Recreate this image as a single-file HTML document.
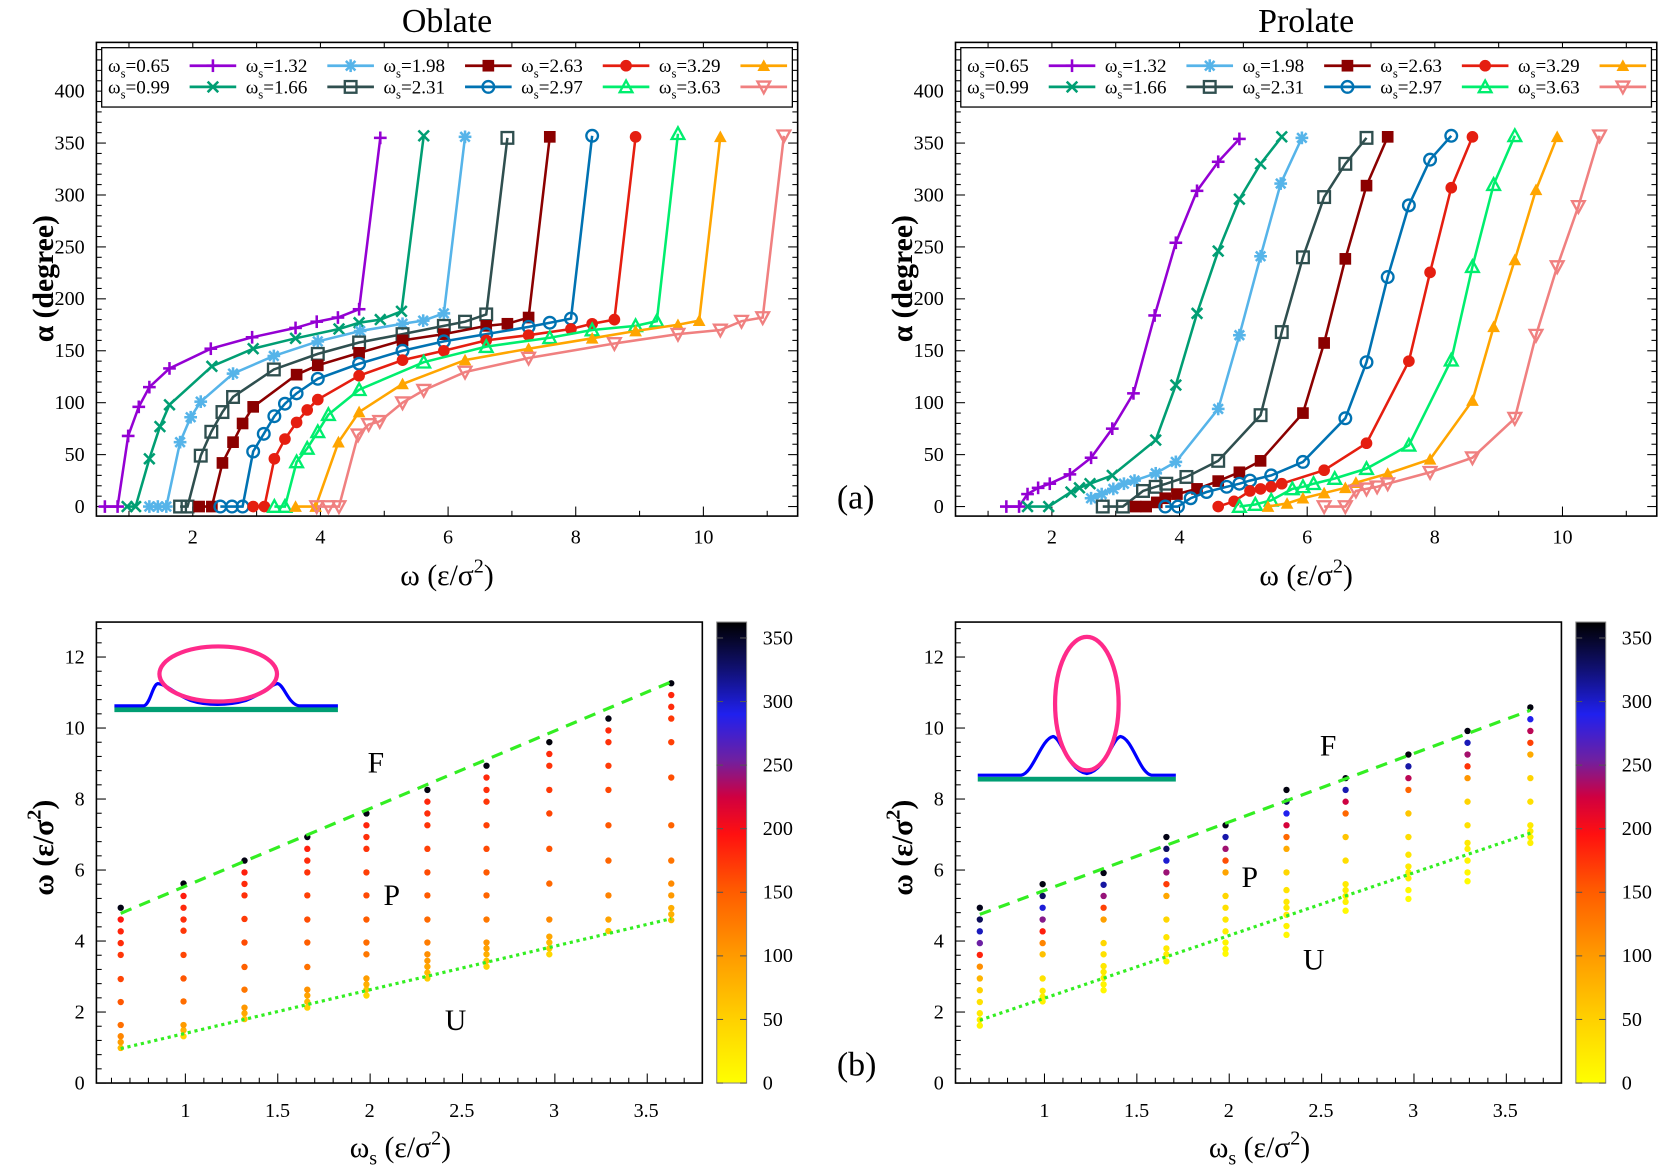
<!DOCTYPE html>
<html><head><meta charset="utf-8"><style>
html,body{margin:0;padding:0;background:#fff;}
svg{display:block;font-family:"Liberation Serif","DejaVu Serif",serif;}
text{font-family:"Liberation Serif","DejaVu Serif",serif;fill:#000;}
</style></head><body>
<svg id="s" width="1661" height="1171" viewBox="0 0 1568 1105" preserveAspectRatio="none" xmlns="http://www.w3.org/2000/svg" font-family="Liberation Serif, serif">
<defs>
<linearGradient id="cb" x1="0" y1="1" x2="0" y2="0">
<stop offset="0" stop-color="#ffff00"/>
<stop offset="0.14" stop-color="#ffd000"/>
<stop offset="0.28" stop-color="#ff9900"/>
<stop offset="0.42" stop-color="#ff5a00"/>
<stop offset="0.54" stop-color="#ff1010"/>
<stop offset="0.62" stop-color="#d00040"/>
<stop offset="0.70" stop-color="#7020a0"/>
<stop offset="0.80" stop-color="#2020ee"/>
<stop offset="0.90" stop-color="#101070"/>
<stop offset="1" stop-color="#000000"/>
</linearGradient>
<clipPath id="cl"><rect x="91" y="40" width="662" height="447"/></clipPath>
<clipPath id="cr"><rect x="902" y="40" width="663" height="447"/></clipPath>
</defs>
<g id="g"></g>
<text x="422" y="30" font-size="32" text-anchor="middle">Oblate</text>
<text x="1233" y="30" font-size="32" text-anchor="middle">Prolate</text>
<g font-size="19" text-anchor="middle">
<text x="182" y="513">2</text><text x="302.5" y="513">4</text><text x="423" y="513">6</text><text x="543.5" y="513">8</text><text x="664" y="513">10</text>
<text x="993" y="513">2</text><text x="1113.5" y="513">4</text><text x="1234" y="513">6</text><text x="1354.5" y="513">8</text><text x="1475" y="513">10</text>
</g>
<g font-size="19" text-anchor="end">
<text x="80" y="484">0</text><text x="80" y="435">50</text><text x="80" y="386">100</text><text x="80" y="337">150</text><text x="80" y="288">200</text><text x="80" y="239">250</text><text x="80" y="190">300</text><text x="80" y="141">350</text><text x="80" y="92">400</text>
<text x="891" y="484">0</text><text x="891" y="435">50</text><text x="891" y="386">100</text><text x="891" y="337">150</text><text x="891" y="288">200</text><text x="891" y="239">250</text><text x="891" y="190">300</text><text x="891" y="141">350</text><text x="891" y="92">400</text>
</g>
<text x="422" y="552" font-size="28" text-anchor="middle">ω (ε/σ<tspan font-size="19" dy="-12">2</tspan><tspan dy="12">)</tspan></text>
<text x="1233" y="552" font-size="28" text-anchor="middle">ω (ε/σ<tspan font-size="19" dy="-12">2</tspan><tspan dy="12">)</tspan></text>
<text transform="translate(50,263) rotate(-90)" font-size="28" font-weight="bold" text-anchor="middle">α (degree)</text>
<text transform="translate(861,263) rotate(-90)" font-size="28" font-weight="bold" text-anchor="middle">α (degree)</text>
<text x="790" y="480" font-size="32">(a)</text>
<text x="790" y="1015" font-size="32">(b)</text>
<g font-size="19" text-anchor="middle">
<text x="175" y="1054">1</text><text x="262" y="1054">1.5</text><text x="349" y="1054">2</text><text x="436" y="1054">2.5</text><text x="523" y="1054">3</text><text x="610" y="1054">3.5</text>
<text x="986" y="1054">1</text><text x="1073" y="1054">1.5</text><text x="1160" y="1054">2</text><text x="1247" y="1054">2.5</text><text x="1334" y="1054">3</text><text x="1421" y="1054">3.5</text>
</g>
<g font-size="19" text-anchor="end">
<text x="80" y="1028">0</text><text x="80" y="961">2</text><text x="80" y="894">4</text><text x="80" y="827">6</text><text x="80" y="760">8</text><text x="80" y="693">10</text><text x="80" y="626">12</text>
<text x="891" y="1028">0</text><text x="891" y="961">2</text><text x="891" y="894">4</text><text x="891" y="827">6</text><text x="891" y="760">8</text><text x="891" y="693">10</text><text x="891" y="626">12</text>
</g>
<g font-size="19">
<text x="720" y="1028">0</text><text x="720" y="968">50</text><text x="720" y="908">100</text><text x="720" y="848">150</text><text x="720" y="788">200</text><text x="720" y="728">250</text><text x="720" y="668">300</text><text x="720" y="608">350</text>
<text x="1531" y="1028">0</text><text x="1531" y="968">50</text><text x="1531" y="908">100</text><text x="1531" y="848">150</text><text x="1531" y="788">200</text><text x="1531" y="728">250</text><text x="1531" y="668">300</text><text x="1531" y="608">350</text>
</g>
<text x="378" y="1092" font-size="28" text-anchor="middle">ω<tspan font-size="19" dy="7">s</tspan><tspan dy="-7"> (ε/σ</tspan><tspan font-size="19" dy="-12">2</tspan><tspan dy="12">)</tspan></text>
<text x="1189" y="1092" font-size="28" text-anchor="middle">ω<tspan font-size="19" dy="7">s</tspan><tspan dy="-7"> (ε/σ</tspan><tspan font-size="19" dy="-12">2</tspan><tspan dy="12">)</tspan></text>
<text transform="translate(50,800) rotate(-90)" font-size="28" font-weight="bold" text-anchor="middle">ω (ε/σ<tspan font-size="19" dy="-12">2</tspan><tspan dy="12">)</tspan></text>
<text transform="translate(861,800) rotate(-90)" font-size="28" font-weight="bold" text-anchor="middle">ω (ε/σ<tspan font-size="19" dy="-12">2</tspan><tspan dy="12">)</tspan></text>
<g font-size="28">
<text x="347" y="729">F</text><text x="362" y="854">P</text><text x="420" y="972">U</text>
<text x="1246" y="713">F</text><text x="1172" y="837">P</text><text x="1230" y="915">U</text>
</g>
<text x="102" y="68" font-size="18">ω<tspan font-size="12" dy="5">s</tspan><tspan dy="-5">=0.65</tspan></text>
<text x="102" y="88" font-size="18">ω<tspan font-size="12" dy="5">s</tspan><tspan dy="-5">=0.99</tspan></text>
<text x="232" y="68" font-size="18">ω<tspan font-size="12" dy="5">s</tspan><tspan dy="-5">=1.32</tspan></text>
<text x="232" y="88" font-size="18">ω<tspan font-size="12" dy="5">s</tspan><tspan dy="-5">=1.66</tspan></text>
<text x="362" y="68" font-size="18">ω<tspan font-size="12" dy="5">s</tspan><tspan dy="-5">=1.98</tspan></text>
<text x="362" y="88" font-size="18">ω<tspan font-size="12" dy="5">s</tspan><tspan dy="-5">=2.31</tspan></text>
<text x="492" y="68" font-size="18">ω<tspan font-size="12" dy="5">s</tspan><tspan dy="-5">=2.63</tspan></text>
<text x="492" y="88" font-size="18">ω<tspan font-size="12" dy="5">s</tspan><tspan dy="-5">=2.97</tspan></text>
<text x="622" y="68" font-size="18">ω<tspan font-size="12" dy="5">s</tspan><tspan dy="-5">=3.29</tspan></text>
<text x="622" y="88" font-size="18">ω<tspan font-size="12" dy="5">s</tspan><tspan dy="-5">=3.63</tspan></text>
<text x="913" y="68" font-size="18">ω<tspan font-size="12" dy="5">s</tspan><tspan dy="-5">=0.65</tspan></text>
<text x="913" y="88" font-size="18">ω<tspan font-size="12" dy="5">s</tspan><tspan dy="-5">=0.99</tspan></text>
<text x="1043" y="68" font-size="18">ω<tspan font-size="12" dy="5">s</tspan><tspan dy="-5">=1.32</tspan></text>
<text x="1043" y="88" font-size="18">ω<tspan font-size="12" dy="5">s</tspan><tspan dy="-5">=1.66</tspan></text>
<text x="1173" y="68" font-size="18">ω<tspan font-size="12" dy="5">s</tspan><tspan dy="-5">=1.98</tspan></text>
<text x="1173" y="88" font-size="18">ω<tspan font-size="12" dy="5">s</tspan><tspan dy="-5">=2.31</tspan></text>
<text x="1303" y="68" font-size="18">ω<tspan font-size="12" dy="5">s</tspan><tspan dy="-5">=2.63</tspan></text>
<text x="1303" y="88" font-size="18">ω<tspan font-size="12" dy="5">s</tspan><tspan dy="-5">=2.97</tspan></text>
<text x="1433" y="68" font-size="18">ω<tspan font-size="12" dy="5">s</tspan><tspan dy="-5">=3.29</tspan></text>
<text x="1433" y="88" font-size="18">ω<tspan font-size="12" dy="5">s</tspan><tspan dy="-5">=3.63</tspan></text>
</svg>
<script>
var NS="http://www.w3.org/2000/svg",G=document.getElementById("g");
function el(t,a,p){var e=document.createElementNS(NS,t);for(var k in a)e.setAttribute(k,a[k]);(p||G).appendChild(e);return e;}
function ln(x1,y1,x2,y2,c,w,p){return el("line",{x1:x1,y1:y1,x2:x2,y2:y2,stroke:c||"#000","stroke-width":w||1.3},p);}
var cols=["#9400d3","#009e73","#56b4e9","#2f4f4f","#8b0000","#0072b2","#e51e10","#00ee6e","#ffa500","#f08080"];
var mks=["plus","cross","star","osq","fsq","ocirc","fcirc","otri","ftri","odtri"];
function mk(t,x,y,c,p){var s=6,w=2.4;
 if(t=="plus"){ln(x-s,y,x+s,y,c,w,p);ln(x,y-s,x,y+s,c,w,p);}
 else if(t=="cross"){ln(x-5,y-5,x+5,y+5,c,w,p);ln(x-5,y+5,x+5,y-5,c,w,p);}
 else if(t=="star"){ln(x-s,y,x+s,y,c,w,p);ln(x,y-s,x,y+s,c,w,p);ln(x-4.5,y-4.5,x+4.5,y+4.5,c,w,p);ln(x-4.5,y+4.5,x+4.5,y-4.5,c,w,p);}
 else if(t=="osq")el("rect",{x:x-5.5,y:y-5.5,width:11,height:11,fill:"none",stroke:c,"stroke-width":2.2},p);
 else if(t=="fsq")el("rect",{x:x-5.5,y:y-5.5,width:11,height:11,fill:c},p);
 else if(t=="ocirc")el("circle",{cx:x,cy:y,r:5.5,fill:"none",stroke:c,"stroke-width":2.2},p);
 else if(t=="fcirc")el("circle",{cx:x,cy:y,r:5.5,fill:c},p);
 else if(t=="otri")el("polygon",{points:(x-6)+","+(y+5)+" "+(x+6)+","+(y+5)+" "+x+","+(y-6),fill:"none",stroke:c,"stroke-width":2.2},p);
 else if(t=="ftri")el("polygon",{points:(x-6)+","+(y+5)+" "+(x+6)+","+(y+5)+" "+x+","+(y-6),fill:c},p);
 else el("polygon",{points:(x-6)+","+(y-5)+" "+(x+6)+","+(y-5)+" "+x+","+(y+6),fill:"none",stroke:c,"stroke-width":2.2},p);
}
var OB=[
[[99,0],[111,0],[121,68],[131,96],[141,115],[160,133],[199,152],[238,163],[279,172],[299,178],[319,182],[339,190],[359,355]],
[[120,0],[128,0],[141,46],[151,77],[160,98],[200,135],[239,152],[279,162],[320,171],[339,177],[359,180],[379,188],[400,357]],
[[141,0],[149,0],[157,0],[170,62],[180,86],[189.5,101],[220,128],[258.5,145],[300,159],[340,169],[380,176],[399.5,179],[419,186],[439,356]],
[[170,0],[177,0],[189.5,49],[199.5,72],[210,91],[220,105.5],[258.5,132],[300,147],[339,158],[380,166],[419,174],[439,178],[459,185],[479,355]],
[[188,0],[200,0],[210,42],[220,62],[229,80],[239,96],[280,127],[300,136],[339,148],[380,160],[419,166],[459,174],[479,176],[499,182],[519,356]],
[[208,0],[219,0],[229,0],[239,53],[249,70],[259,87],[269,99],[280,109],[300,123],[339,137.5],[380,150],[419,159],[459,166],[499,173],[519,177],[539,181],[559,357]],
[[239,0],[249.6,0],[259,46],[269,65],[280,81],[290,93],[300,103],[339,126],[380,141],[419,150],[459,160],[499,165],[539,171],[559,176],[580,180],[600,356]],
[[259,0],[269,0],[280,43],[290,56],[300,72],[310,88.5],[339,112.5],[400,139],[459,154],[519,162.5],[559,170],[600,174],[620,178.5],[640,359]],
[[279,0],[298,0],[319.5,62],[339,91],[380,118],[439,141],[499,152],[559,162],[600,169],[640,175],[660,179],[680,356]],
[[299,0],[310,0],[320,0],[338,69],[348,79],[358.5,82],[380,100],[400,112],[439,129.5],[499,143],[580,157],[640,166],[680,170],[700,178.5],[720,182],[740,357]]];
var PR=[
[[950,0],[962,0],[970,12],[980,18],[991,22],[1010,31],[1030,47],[1050,75],[1070,109],[1090,184],[1110,254],[1130,304],[1150,332],[1170,354]],
[[970,0],[990,0],[1011,14],[1019,18],[1029,22],[1050,30],[1091,64],[1110,117],[1130,186],[1150,246],[1170,296],[1190,330],[1210,356]],
[[1030,8],[1040,12],[1051,17],[1061,22],[1071,25],[1091,32],[1110,43],[1150,94],[1170,165],[1190,241],[1209,311],[1229,355]],
[[1041,0],[1060,0],[1079,15],[1091,19],[1101,22],[1120,28.5],[1150,44],[1190,88],[1210,168],[1230,240],[1250,298],[1270,330],[1290,355]],
[[1072,0],[1082,0],[1092,4],[1100,8],[1111,12],[1130,17],[1150,24.5],[1170,33],[1190,44],[1230,90],[1250,157.5],[1270,238.5],[1290,309],[1310,356]],
[[1100,0],[1112,0],[1124,8],[1139,14],[1158,19],[1170,22],[1180,25],[1200,30],[1230,43],[1270,85],[1290,139],[1310,221],[1330,290],[1350,334],[1370,357]],
[[1150,0],[1165,5],[1180,15],[1190,17],[1200,19],[1210,22],[1250,35],[1290,61],[1330,140],[1350,225.5],[1370,307],[1390,356]],
[[1170,0],[1185,2],[1200,6],[1220,17],[1230,19],[1240,22],[1260,27],[1290,36.5],[1330,59],[1370,141],[1390,231],[1410,310],[1430,357]],
[[1197,0],[1215,3],[1230,8],[1250,13],[1270,18],[1280,23],[1310,31.7],[1350,45.5],[1390,102],[1410,173],[1430,237.5],[1450,305],[1470,356]],
[[1250,0],[1270,0],[1280,15],[1290,17],[1300,19],[1310,22],[1350,33],[1390,47],[1430,85],[1450,165],[1470,231],[1490,289],[1510,357]]];
function ay(a){return 478-a*0.98;}
function topPanel(L,data,cid,x0w){
 var R=L+662;
 for(var a=0;a<=450;a+=10){var y=ay(a);if(y<40)break;var l=(a%50==0)?9:5;ln(L,y,L+l,y,"#000",1);ln(R,y,R-l,y,"#000",1);}
 for(var w=1;w<=11;w+=1){var x=x0w+(w-2)*60.25;var l=(w%2==0)?9:5;ln(x,487,x,487-l,"#000",1);ln(x,40,x,40+l,"#000",1);}
 var g=el("g",{"clip-path":"url(#"+cid+")"});
 for(var i=0;i<data.length;i++){var d=data[i],pts=d.map(function(p){return p[0]+","+ay(p[1]);}).join(" ");
  el("polyline",{points:pts,fill:"none",stroke:cols[i],"stroke-width":2.4},g);
  d.forEach(function(p){mk(mks[i],p[0],ay(p[1]),cols[i],g);});}
 el("rect",{x:L,y:40,width:662,height:447,fill:"none",stroke:"#000","stroke-width":1.5});
 el("rect",{x:L+5,y:45,width:652,height:56,fill:"#fff",stroke:"#000","stroke-width":1.2});
 var ord=[0,2,4,6,8,1,3,5,7,9];
 for(var k=0;k<10;k++){var i=ord[k],col=k%5,row=(k<5)?0:1;var x1=L+88+col*130,x2=x1+44,y=62+row*20;
  ln(x1,y,x2,y,cols[i],2.6);mk(mks[i],(x1+x2)/2,y,cols[i]);}
}
topPanel(91,OB,"cl",182);
topPanel(902,PR,"cr",993);
var st=[[0,[255,255,0]],[50,[255,208,0]],[100,[255,153,0]],[150,[255,90,0]],[195,[255,16,16]],[225,[208,0,64]],[252,[112,32,160]],[290,[32,32,238]],[325,[16,16,112]],[362,[0,0,0]]];
function cmap(a){for(var i=1;i<st.length;i++){if(a<=st[i][0]){var t=(a-st[i-1][0])/(st[i][0]-st[i-1][0]);var c=st[i-1][1].map(function(v,j){return Math.round(v+(st[i][1][j]-v)*t);});return "rgb("+c+")";}}return "#000";}
var ws=[0.65,0.99,1.32,1.66,1.98,2.31,2.63,2.97,3.29,3.63];
function botPanel(L,data,x0,dash,dot,off){
 var R=L+572,T=587,B=1022;
 el("rect",{x:L,y:T,width:572,height:435,fill:"#fff",stroke:"none"});
 for(var v=0;v<=12.9;v+=0.4){var y=B-v*33.5;var mj=Math.abs(v/2-Math.round(v/2))<0.01;ln(L,y,L+(mj?9:5),y,"#000",1);}
 for(var u=0.5;u<=3.85;u+=0.1){var x=off+175+(u-1)*174.4;if(x<L+1||x>R-1)continue;var mj=Math.abs(u*2-Math.round(u*2))<0.01;ln(x,B,x,B-(mj?9:5),"#000",1);}
 if(off==0){
  el("rect",{x:108,y:667,width:211,height:5,fill:"#009e73"});
  el("path",{d:"M108,666 L136,666 C142,664 144,646 149,645 C158,646 165,655 180,661 C195,666 215,666 232,661 C248,655 255,646 262,645 C268,646 272,664 282,666 L319,666",fill:"none",stroke:"#0000ff","stroke-width":3});
  el("ellipse",{cx:206,cy:636,rx:55.5,ry:26,fill:"none",stroke:"#ff2a8a","stroke-width":4});
 } else {
  el("rect",{x:923,y:733,width:187,height:4.5,fill:"#009e73"});
  el("path",{d:"M923,731.5 L964,731.5 C975,730 983,697 994,695 C1002,696 1008,727 1026,730 C1044,727 1050,696 1058,695 C1069,697 1076,730 1087,731.5 L1110,731.5",fill:"none",stroke:"#0000ff","stroke-width":3});
  el("ellipse",{cx:1026,cy:664,rx:30,ry:63,fill:"none",stroke:"#ff2a8a","stroke-width":4});
 }
 for(var i=0;i<data.length;i++){var xx=off+175+(ws[i]-1)*174.4;
  data[i].forEach(function(p){if(p[1]<=0.5)return;var w=2+(p[0]-x0)/60.25;el("circle",{cx:xx,cy:B-w*33.5,r:3,fill:cmap(p[1])});});}
 function gl(a,b,da){el("line",{x1:off+175+(0.65-1)*174.4,y1:B-a*33.5,x2:off+175+(3.63-1)*174.4,y2:B-b*33.5,stroke:"#33ee22","stroke-width":3,"stroke-dasharray":da});}
 gl(dash[0],dash[1],"11,8");gl(dot[0],dot[1],"3,3.5");
 el("rect",{x:L,y:T,width:572,height:435,fill:"none",stroke:"#000","stroke-width":1.5});
 var cx=off+676.6;
 el("rect",{x:cx,y:587,width:28.2,height:435,fill:"url(#cb)",stroke:"#888","stroke-width":1});
 for(var a=0;a<=350;a+=50){var y=1022-a*1.2;ln(cx+28.2,y,cx+22,y,"#555",1);ln(cx,y,cx+6,y,"#555",1);}
}
botPanel(91,OB,182,[4.78,11.3],[0.97,4.63],0);
botPanel(902,PR,993,[4.75,10.5],[1.77,7.04],811);
</script>
</body></html>
